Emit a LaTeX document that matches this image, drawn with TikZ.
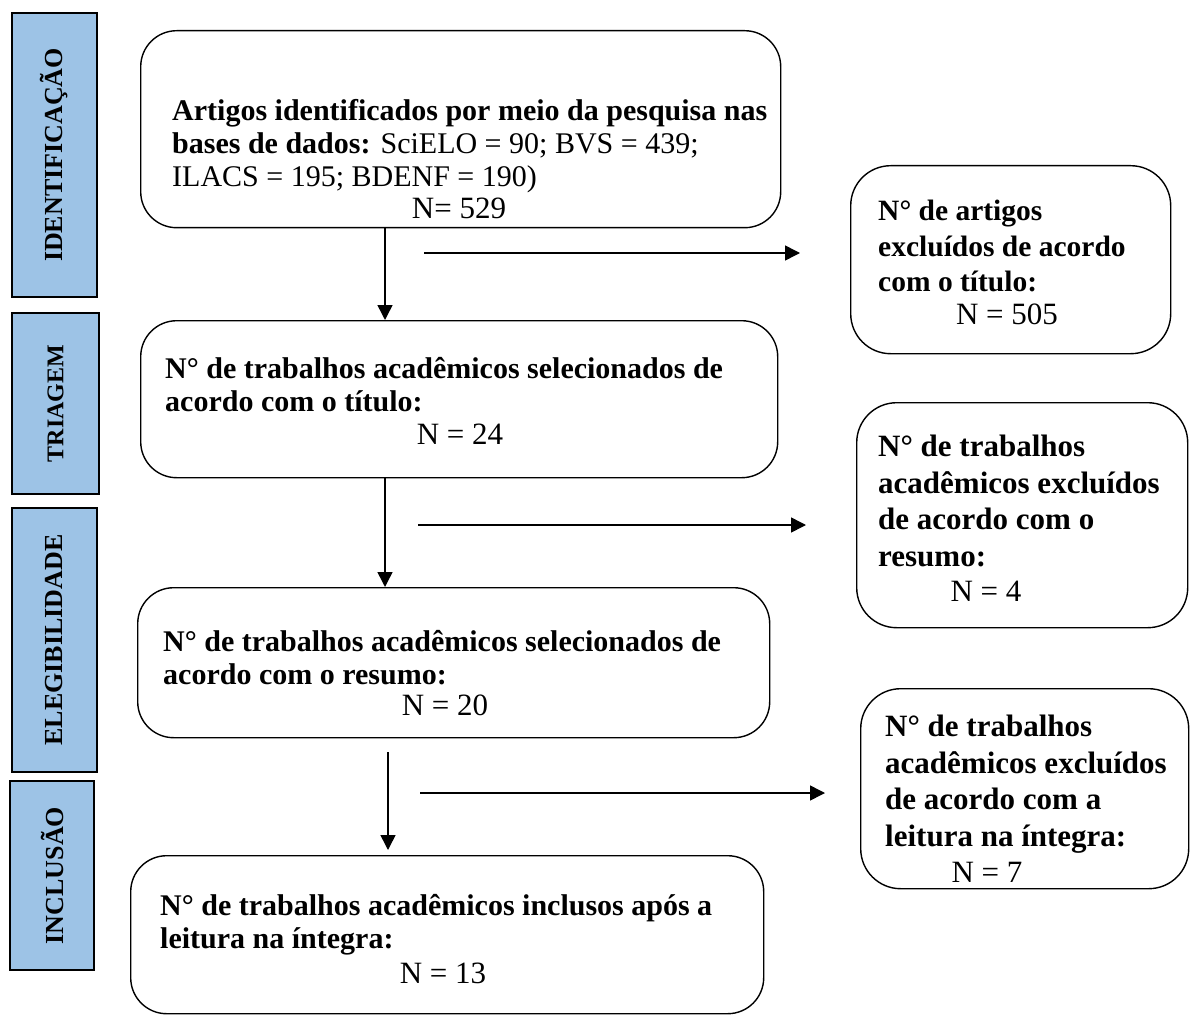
\documentclass[tikz,border=0pt]{standalone}
\usepackage{fontspec}
\setmainfont{Liberation Serif}
\usetikzlibrary{arrows.meta}
\definecolor{barblue}{RGB}{157,195,230}
\begin{document}
\begin{tikzpicture}[x=1pt,y=-1pt,
  stage/.style={draw=black, line width=1.5pt, fill=barblue, inner sep=0pt, rotate=90,
    font=\fontsize{26}{28}\selectfont\bfseries},
  box/.style={draw=black, line width=1.4pt, rounded corners=36pt, anchor=north west, inner sep=0pt},
  btext/.style={font=\fontsize{30}{33}\selectfont\bfseries, anchor=north west, align=left, inner sep=0pt},
  rtext/.style={font=\fontsize{31}{36.5}\selectfont\bfseries, anchor=north west, align=left, inner sep=0pt},
  ntext/.style={font=\fontsize{31}{33}\selectfont, anchor=base, inner sep=0pt},
  arr/.style={line width=1.5pt, -{Triangle[width=15pt,length=15pt]}}
]
\useasboundingbox (0,0) rectangle (1190,1016);

% stage bars
\node[stage, minimum width=284pt, minimum height=85pt] (s1) at (54.5,155) {IDENTIFICAÇÃO};
\node[stage, minimum width=181pt, minimum height=87pt, font=\fontsize{24}{26}\selectfont\bfseries] (s2) at (55.5,403.5) {TRIAGEM};
\node[stage, minimum width=264pt, minimum height=85pt] (s3) at (54.5,640) {ELEGIBILIDADE};
\node[stage, minimum width=189pt, minimum height=84pt] (s4) at (52,875.5) {INCLUSÃO};

% main boxes
\node[box, minimum width=640pt, minimum height=197pt] (b1) at (140,30) {};
\node[box, minimum width=637pt, minimum height=157pt] (b2) at (140,320) {};
\node[box, minimum width=632pt, minimum height=150pt] (b3) at (137,587) {};
\node[box, minimum width=633pt, minimum height=158pt] (b4) at (130,855) {};

% right boxes
\node[box, rounded corners=40pt, minimum width=320pt, minimum height=188pt] (r1) at (850,165) {};
\node[box, rounded corners=40pt, minimum width=331pt, minimum height=225pt] (r2) at (856,402) {};
\node[box, rounded corners=40pt, minimum width=328pt, minimum height=200pt] (r3) at (860,688) {};

% main texts
\node[btext] (t1) at (172,99) {Artigos identificados por meio da pesquisa nas\\ bases de dados: {\mdseries SciELO = 90; BVS = 439;}\\ {\mdseries ILACS = 195; BDENF = 190)}};
\node[ntext] (n1) at (459,219) {N= 529};
\node[btext] (t2) at (165,357) {N° de trabalhos acadêmicos selecionados de\\ acordo com o título:};
\node[ntext] (n2) at (460,444) {N = 24};
\node[btext] (t3) at (163,630) {N° de trabalhos acadêmicos selecionados de\\ acordo com o resumo:};
\node[ntext] (n3) at (445,715) {N = 20};
\node[btext] (t4) at (160,894) {N° de trabalhos acadêmicos inclusos após a\\ leitura na íntegra:};
\node[ntext] (n4) at (443,983) {N = 13};

% right texts
\node[rtext, font=\fontsize{29.5}{35.5}\selectfont\bfseries] (u1) at (878,200) {N° de artigos\\ excluídos de acordo\\ com o título:};
\node[ntext] (m1) at (1007,324) {N = 505};
\node[rtext] (u2) at (878,435) {N° de trabalhos\\ acadêmicos excluídos\\ de acordo com o\\ resumo:};
\node[ntext] (m2) at (986,601) {N = 4};
\node[rtext] (u3) at (885,715) {N° de trabalhos\\ acadêmicos excluídos\\ de acordo com a\\ leitura na íntegra:};
\node[ntext] (m3) at (987,882) {N = 7};

% connector coordinates
\coordinate (v1) at (385,0);
\coordinate (v2) at (385,0);
\coordinate (v3a) at (388,752);
\coordinate (v3b) at (388,850);
\coordinate (h1a) at (424,253);
\coordinate (h1b) at (800,253);
\coordinate (h2a) at (418,525);
\coordinate (h2b) at (806,525);
\coordinate (h3a) at (420,793);
\coordinate (h3b) at (825,793);

\draw[arr] (b1.south -| v1) -- (b2.north -| v1);
\draw[arr] (b2.south -| v2) -- (b3.north -| v2);
\draw[arr] (v3a) -- (v3b);
\draw[arr] (h1a) -- (h1b);
\draw[arr] (h2a) -- (h2b);
\draw[arr] (h3a) -- (h3b);
\end{tikzpicture}
\end{document}
